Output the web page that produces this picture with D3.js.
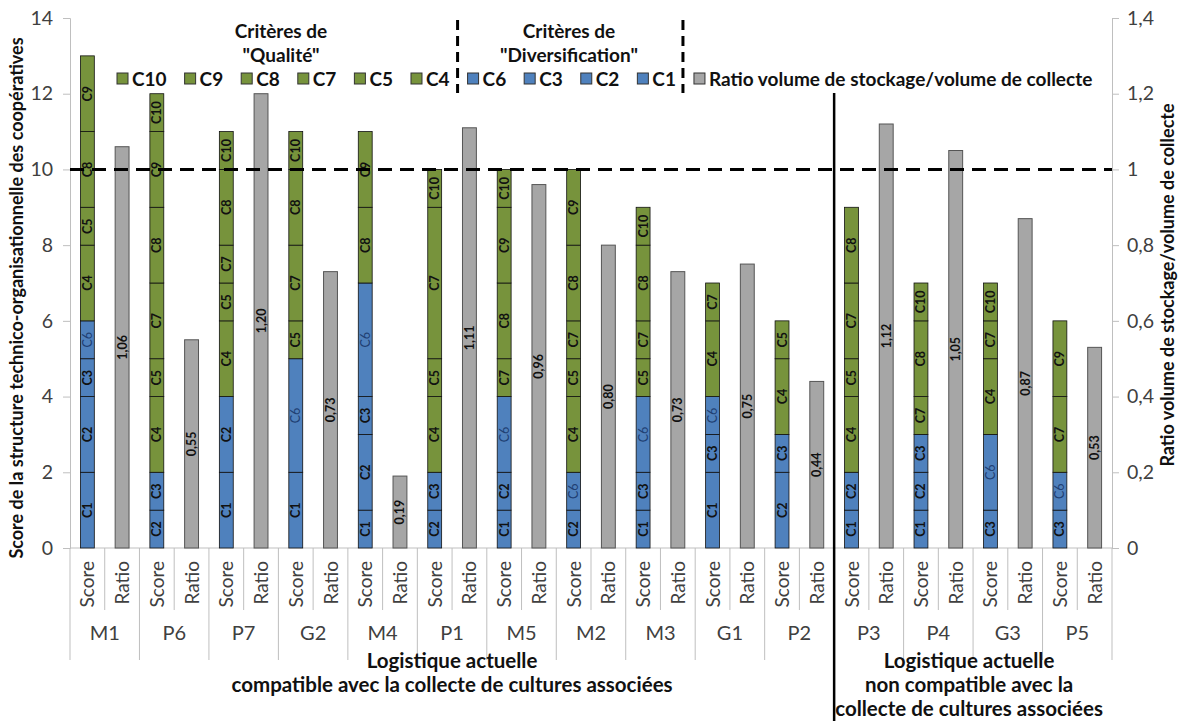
<!DOCTYPE html>
<html>
<head>
<meta charset="utf-8">
<script src="https://cdn.jsdelivr.net/npm/d3@7/dist/d3.min.js"></script>
<style>
  body { margin: 0; background: #fff; }
  text { font-family: Lato, 'Open Sans', sans-serif; }
</style>
</head>
<body>
<svg id="chart" width="1181" height="721"></svg>
<script>
'use strict'

// cooperatives, in chart order
const groups = ['M1', 'P6', 'P7', 'G2', 'M4', 'P1', 'M5', 'M2', 'M3', 'G1', 'P2', 'P3', 'P4', 'G3', 'P5']
const subCats = ['Score', 'Ratio']

// ratio volume de stockage / volume de collecte
const ratios = [1.06, 0.55, 1.20, 0.73, 0.19, 1.11, 0.96, 0.80, 0.73, 0.75, 0.44, 1.12, 1.05, 0.87, 0.53]

// score segments, bottom to top : [critere, points]
const scoreSegments = [
  [['C1', 2], ['C2', 2], ['C3', 1], ['C6', 1], ['C4', 2], ['C5', 1], ['C8', 2], ['C9', 2]],
  [['C2', 1], ['C3', 1], ['C4', 2], ['C5', 1], ['C7', 2], ['C8', 2], ['C9', 2], ['C10', 1]],
  [['C1', 2], ['C2', 2], ['C4', 2], ['C5', 1], ['C7', 1], ['C8', 2], ['C10', 1]],
  [['C1', 2], ['C6', 3], ['C5', 1], ['C7', 2], ['C8', 2], ['C10', 1]],
  [['C1', 1], ['C2', 2], ['C3', 1], ['C6', 3], ['C8', 2], ['C9', 2]],
  [['C2', 1], ['C3', 1], ['C4', 2], ['C5', 1], ['C7', 4], ['C10', 1]],
  [['C1', 1], ['C2', 1], ['C6', 2], ['C7', 1], ['C8', 2], ['C9', 2], ['C10', 1]],
  [['C2', 1], ['C6', 1], ['C4', 2], ['C5', 1], ['C7', 1], ['C8', 2], ['C9', 2]],
  [['C1', 1], ['C3', 1], ['C6', 2], ['C5', 1], ['C7', 1], ['C8', 2], ['C10', 1]],
  [['C1', 2], ['C3', 1], ['C6', 1], ['C4', 2], ['C7', 1]],
  [['C2', 2], ['C3', 1], ['C4', 2], ['C5', 1]],
  [['C1', 1], ['C2', 1], ['C4', 2], ['C5', 1], ['C7', 2], ['C8', 2]],
  [['C1', 1], ['C2', 1], ['C3', 1], ['C7', 1], ['C8', 2], ['C10', 1]],
  [['C3', 1], ['C6', 2], ['C4', 2], ['C7', 1], ['C10', 1]],
  [['C3', 1], ['C6', 1], ['C7', 2], ['C9', 2]]
]

const qualityCrit = ['C10', 'C9', 'C8', 'C7', 'C5', 'C4']
const diversCrit = ['C6', 'C3', 'C2', 'C1']
const ratioLabel = 'Ratio volume de stockage/volume de collecte'

const leftTicks = [0, 2, 4, 6, 8, 10, 12, 14]
const rightTicks = [0, 0.2, 0.4, 0.6, 0.8, 1, 1.2, 1.4]
const threshold = 10
const splitAt = 'P3'  // first group of the second block

const blockLabels = [
  ['Logistique actuelle', 'compatible avec la collecte de cultures associées'],
  ['Logistique actuelle', 'non compatible avec la', 'collecte de cultures associées']
]

const BLUE = '#4F81BD', GREEN = '#77933C', GREY = '#A6A6A6'
const colorOf = c => diversCrit.includes(c) ? BLUE : GREEN

const svg = d3.select('#chart')
const plotL = 70, plotR = 1112, plotT = 18, plotB = 548

const y = d3.scaleLinear().domain([0, 14]).range([plotB, plotT])
const yR = d3.scaleLinear().domain([0, 1.4]).range([plotB, plotT])

const keys = []
groups.forEach(g => subCats.forEach(s => keys.push(g + '|' + s)))
const x = d3.scaleBand().domain(keys).range([plotL, plotR])
const gx = d3.scaleBand().domain(groups).range([plotL, plotR])
const barW = x.bandwidth() * 0.4
const cx = k => x(k) + x.bandwidth() / 2

const tickColor = '#404040'
const axisGrey = '#BFBFBF'

// ---- axes
const yAxis = svg.append('g')
    .attr('transform', `translate(${plotL},0)`)
    .call(d3.axisLeft(y).tickValues(leftTicks).tickSize(7).tickPadding(10))
const yAxisR = svg.append('g')
    .attr('transform', `translate(${plotR},0)`)
    .call(d3.axisRight(yR).tickValues(rightTicks).tickSize(7).tickPadding(8)
      .tickFormat(d => d3.format('~g')(+d.toFixed(1)).replace('.', ',')))
;[yAxis, yAxisR].forEach(a => {
  a.selectAll('path, line').attr('stroke', axisGrey)
  a.selectAll('text').attr('fill', tickColor).style('font-size', '19.5px')
})

// x baseline + category separators
svg.append('line')
    .attr('x1', plotL).attr('x2', plotR).attr('y1', plotB).attr('y2', plotB)
    .attr('stroke', axisGrey)
keys.forEach((k, i) => {
  const isGroupEdge = i % 2 === 0
  svg.append('line')
      .attr('x1', x(k)).attr('x2', x(k))
      .attr('y1', plotB).attr('y2', isGroupEdge ? 660 : 610)
      .attr('stroke', axisGrey)
})
svg.append('line')
    .attr('x1', plotR).attr('x2', plotR).attr('y1', plotB).attr('y2', 660)
    .attr('stroke', axisGrey)

// Score / Ratio labels
svg.selectAll('.subcat')
    .data(keys)
  .enter().append('text')
    .attr('class', 'subcat')
    .attr('transform', k => `translate(${cx(k) + 7},561) rotate(-90)`)
    .attr('text-anchor', 'end')
    .attr('fill', tickColor)
    .style('font-size', '19px')
    .text(k => k.split('|')[1])

// group labels
svg.selectAll('.grp')
    .data(groups)
  .enter().append('text')
    .attr('class', 'grp')
    .attr('x', g => gx(g) + gx.bandwidth() / 2)
    .attr('y', 640)
    .attr('text-anchor', 'middle')
    .attr('fill', tickColor)
    .style('font-size', '20px')
    .text(g => g)

// ---- score stacks
groups.forEach((g, i) => {
  let base = 0
  const segs = scoreSegments[i].map(([c, v]) => {
    const s = { c, y0: base, y1: base + v }
    base += v
    return s
  })
  const gg = svg.append('g')
  const xc = cx(g + '|Score')
  gg.selectAll('rect')
      .data(segs)
    .enter().append('rect')
      .attr('x', xc - barW / 2)
      .attr('width', barW)
      .attr('y', d => y(d.y1))
      .attr('height', d => y(d.y0) - y(d.y1))
      .attr('fill', d => colorOf(d.c))
      .attr('stroke', '#111')
      .attr('stroke-width', 0.8)
  gg.selectAll('text')
      .data(segs)
    .enter().append('text')
      .attr('transform', d => `translate(${xc + 4.5},${y((d.y0 + d.y1) / 2)}) rotate(-90)`)
      .attr('text-anchor', 'middle')
      .attr('fill', d => d.c === 'C6' ? '#1F3F73' : '#111')
      .style('font-size', '12.5px')
      .style('font-weight', d => d.c === 'C6' ? 'normal' : 'bold')
      .text(d => d.c)
})

// ---- ratio bars
groups.forEach((g, i) => {
  const xc = cx(g + '|Ratio')
  svg.append('rect')
      .attr('x', xc - barW / 2)
      .attr('width', barW)
      .attr('y', yR(ratios[i]))
      .attr('height', plotB - yR(ratios[i]))
      .attr('fill', GREY)
      .attr('stroke', '#555')
      .attr('stroke-width', 1)
  svg.append('text')
      .attr('transform', `translate(${xc + 4.5},${(plotB + yR(ratios[i])) / 2}) rotate(-90)`)
      .attr('text-anchor', 'middle')
      .attr('fill', '#111')
      .style('font-size', '12.5px')
      .style('font-weight', 'bold')
      .text(ratios[i].toFixed(2).replace('.', ','))
})

// ---- threshold line
svg.append('line')
    .attr('x1', plotL).attr('x2', plotR)
    .attr('y1', y(threshold)).attr('y2', y(threshold))
    .attr('stroke', '#000').attr('stroke-width', 3)
    .attr('stroke-dasharray', '14,8')

// ---- block separator
svg.append('line')
    .attr('x1', gx(splitAt)).attr('x2', gx(splitAt))
    .attr('y1', 93).attr('y2', 721)
    .attr('stroke', '#000').attr('stroke-width', 2.5)

// ---- legend
const legendItems = qualityCrit.map(c => ({ c, label: c, fill: GREEN }))
  .concat(diversCrit.map(c => ({ c, label: c, fill: BLUE })))
  .concat([{ c: 'R', label: ratioLabel, fill: GREY }])

const lg = svg.append('g')
let lx = 117
const legendY = 79
const legendX = {}
legendItems.forEach(it => {
  legendX[it.c] = lx
  lg.append('rect')
      .attr('x', lx).attr('y', legendY - 6)
      .attr('width', 11).attr('height', 11)
      .attr('fill', it.fill).attr('stroke', '#333').attr('stroke-width', 1)
  const t = lg.append('text')
      .attr('x', lx + 15).attr('y', legendY + 7)
      .attr('fill', '#111')
      .style('font-size', '19px').style('font-weight', 'bold')
      .text(it.label)
  lx += 15 + t.node().getComputedTextLength() + 18
})

// legend headings
const head = (cxh, lines) => lines.forEach((l, i) => svg.append('text')
    .attr('x', cxh).attr('y', 38 + i * 24)
    .attr('text-anchor', 'middle')
    .attr('fill', '#111')
    .style('font-size', '19px').style('font-weight', 'bold')
    .text(l))
head(281, ['Critères de', '"Qualité"'])
head(569, ['Critères de', '"Diversification"'])

// dashed separators in the legend
;[legendX['C6'] - 10, legendX['R'] - 11].forEach(xx => svg.append('line')
    .attr('x1', xx).attr('x2', xx).attr('y1', 20).attr('y2', 93)
    .attr('stroke', '#000').attr('stroke-width', 3)
    .attr('stroke-dasharray', '10,6'))

// ---- axis titles
svg.append('text')
    .attr('transform', 'translate(23,298) rotate(-90)')
    .attr('text-anchor', 'middle')
    .attr('fill', '#111')
    .style('font-size', '18px').style('font-weight', 'bold')
    .text('Score de la structure technico-organisationnelle des coopératives')
svg.append('text')
    .attr('transform', 'translate(1174,285) rotate(-90)')
    .attr('text-anchor', 'middle')
    .attr('fill', '#111')
    .style('font-size', '18px').style('font-weight', 'bold')
    .text(ratioLabel)

// ---- block labels under the axis
const blocks = [
  [gx(groups[0]), gx(splitAt)],
  [gx(splitAt), gx(groups[groups.length - 1]) + gx.bandwidth()]
]
blocks.forEach(([a, b], bi) => {
  blockLabels[bi].forEach((l, li) => svg.append('text')
      .attr('x', (a + b) / 2 - (bi === 1 ? 4 : 0))
      .attr('y', 668 + li * 24)
      .attr('text-anchor', 'middle')
      .attr('fill', '#111')
      .style('font-size', '20.5px').style('font-weight', 'bold')
      .text(l))
})
</script>
</body>
</html>
